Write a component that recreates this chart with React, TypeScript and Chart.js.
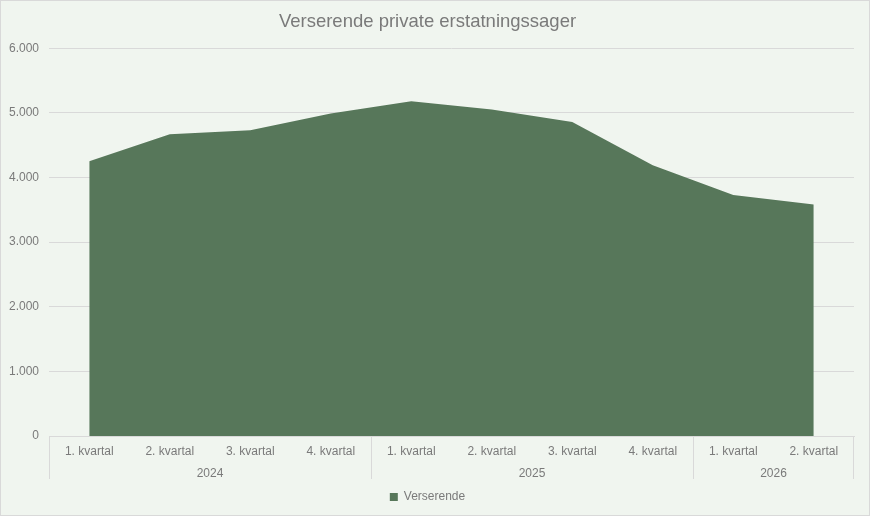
import { useEffect, useRef } from 'react';
import { Chart, registerables } from 'chart.js';

Chart.register(...registerables);

// quarters and the years they belong to
const quarterLabels = [
  '1. kvartal', '2. kvartal', '3. kvartal', '4. kvartal',
  '1. kvartal', '2. kvartal', '3. kvartal', '4. kvartal',
  '1. kvartal', '2. kvartal'
];
const years = ['2024', '2025', '2026'];
const yearSpans = [4, 4, 2];

// pending cases per quarter
const verserende = [4250, 4670, 4730, 4990, 5180, 5050, 4860, 4190, 3730, 3580];

const textColor = '#7a7a7a';
const lineColor = '#d9d9d9';
const fillColor = '#57775a';

const formatDa = (v: number): string => String(v).replace(/\B(?=(\d{3})+(?!\d))/g, '.');

// draws year row + group separator lines under the quarter labels
const yearGroups = {
  id: 'yearGroups',
  afterDraw(chart: any) {
    const x = chart.scales.x;
    const ctx = chart.ctx;
    const half = (x.getPixelForValue(1) - x.getPixelForValue(0)) / 2;
    const top = x.top;
    const bottom = x.bottom - 2;
    ctx.save();
    ctx.strokeStyle = lineColor;
    ctx.lineWidth = 1;
    ctx.fillStyle = textColor;
    ctx.font = '12px "Liberation Sans", Arial, sans-serif';
    ctx.textAlign = 'center';
    ctx.textBaseline = 'middle';
    let start = 0;
    years.forEach((year, i) => {
      const end = start + yearSpans[i] - 1;
      const left = x.getPixelForValue(start) - half;
      const right = x.getPixelForValue(end) + half;
      ctx.beginPath();
      ctx.moveTo(Math.round(left) + 0.5, top);
      ctx.lineTo(Math.round(left) + 0.5, bottom);
      if (i === years.length - 1) {
        ctx.moveTo(Math.round(right) - 0.5, top);
        ctx.lineTo(Math.round(right) - 0.5, bottom);
      }
      ctx.stroke();
      const cx = (x.getPixelForValue(start) + x.getPixelForValue(end)) / 2;
      ctx.fillText(year, cx, x.bottom - 7);
      start = end + 1;
    });
    ctx.restore();
  }
};

const App = () => {
  const chartRef = useRef<HTMLCanvasElement | null>(null);
  const chartInstance = useRef<Chart | null>(null);

  useEffect(() => {
    document.body.style.margin = '0';
    if (!chartRef.current) return;
    const ctx = chartRef.current.getContext('2d') as CanvasRenderingContext2D;

    if (chartInstance.current) {
      chartInstance.current.destroy();
    }

    chartInstance.current = new Chart(ctx, {
      type: 'line',
      data: {
        labels: quarterLabels,
        datasets: [
          {
            label: 'Verserende',
            data: verserende,
            backgroundColor: fillColor,
            borderColor: fillColor,
            borderWidth: 0,
            fill: 'origin',
            tension: 0,
            pointRadius: 0
          }
        ]
      },
      options: {
        responsive: true,
        maintainAspectRatio: false,
        animation: false,
        layout: { padding: { left: 0, right: 15, top: 0, bottom: 2 } },
        scales: {
          x: {
            offset: true,
            grid: { display: false, drawTicks: false },
            border: { display: true, color: lineColor },
            ticks: {
              color: textColor,
              font: { size: 12, family: '"Liberation Sans", Arial, sans-serif' },
              padding: 8,
              maxRotation: 0,
              autoSkip: false
            },
            afterFit: (scale: any) => {
              scale.height = 45;
            }
          },
          y: {
            min: 0,
            max: 6000,
            grid: { color: lineColor, drawTicks: false },
            border: { display: false },
            ticks: {
              stepSize: 1000,
              color: textColor,
              padding: 10,
              font: { size: 12, family: '"Liberation Sans", Arial, sans-serif' },
              callback: (v: any) => formatDa(Number(v))
            },
            afterFit: (scale: any) => {
              scale.width = 48;
            }
          }
        },
        plugins: {
          title: {
            display: true,
            text: 'Verserende private erstatningssager',
            color: textColor,
            font: { size: 18.5, weight: 'normal', family: '"Liberation Sans", Arial, sans-serif' },
            padding: { top: 10, bottom: 15 }
          },
          legend: {
            position: 'bottom',
            labels: {
              color: textColor,
              boxWidth: 8,
              boxHeight: 8,
              padding: 10,
              font: { size: 12, family: '"Liberation Sans", Arial, sans-serif' }
            }
          },
          tooltip: { enabled: false }
        }
      },
      plugins: [yearGroups]
    }) as Chart;

    return () => {
      if (chartInstance.current) {
        chartInstance.current.destroy();
        chartInstance.current = null;
      }
    };
  }, []);

  return (
    <div
      style={{
        width: 870,
        height: 516,
        boxSizing: 'border-box',
        border: `1px solid ${lineColor}`,
        background: '#f0f5ef',
        position: 'relative'
      }}
    >
      <canvas ref={chartRef} />
    </div>
  );
};

export default App;
